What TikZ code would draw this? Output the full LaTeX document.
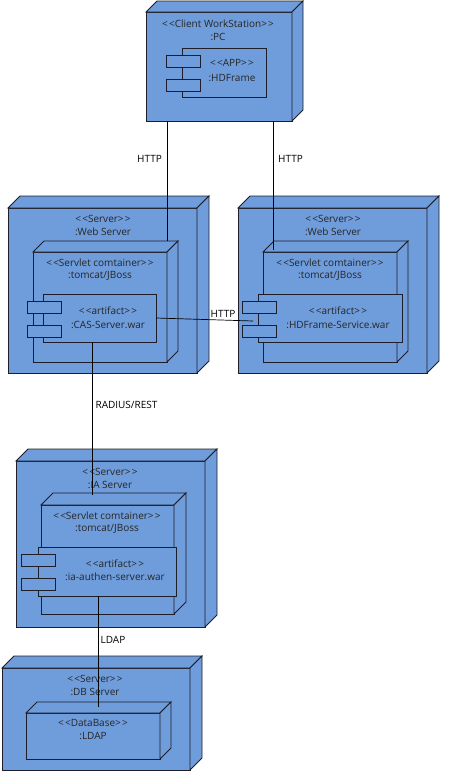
\documentclass[tikz,border=0pt]{standalone}
\usepackage{fontspec}
\setmainfont{Open Sans}
\definecolor{nodefill}{RGB}{111,156,218}
\definecolor{edge}{RGB}{30,30,40}
\newcommand\stl{<\kern1.2pt<}
\newcommand\str{>\kern1.2pt>}
\tikzset{
  dev/.style={draw=edge, fill=nodefill, line width=0.75pt, anchor=north west, inner sep=0pt, outer sep=0pt},
  face/.style={draw=edge, fill=nodefill, line width=0.75pt, line join=miter},
  txt/.style={font=\fontsize{10}{13}\selectfont, text=black!85, inner sep=0pt, anchor=center},
  conn/.style={draw=black, line width=0.7pt},
  lab/.style={font=\fontsize{10}{13}\selectfont, inner sep=1pt, anchor=center}
}
\newcommand\devbox[6]{% name, x1, y1, x2, y2, depth
  \node[dev, minimum width=#4pt-#2pt, minimum height=#5pt-#3pt] (#1) at (#2,#3) {};
  \draw[face] (#1.north west) -- ++(#6,-#6) -- ([shift={(#6,-#6)}]#1.north east) -- (#1.north east) -- cycle;
  \draw[face] (#1.north east) -- ([shift={(#6,-#6)}]#1.north east) -- ([shift={(#6,-#6)}]#1.south east) -- (#1.south east) -- cycle;
}
\newcommand\compbox[7]{% name, x1, y1, x2, y2, tabx1, tabx2
  \node[dev, minimum width=#4pt-#2pt, minimum height=#5pt-#3pt] (#1) at (#2,#3) {};
  \node[dev, minimum width=#7pt-#6pt, minimum height=12pt] (#1t1) at (#6,#3+7) {};
  \node[dev, minimum width=#7pt-#6pt, minimum height=12pt] (#1t2) at (#6,#3+31) {};
}
\begin{document}
\begin{tikzpicture}[x=1pt,y=-1pt]
\useasboundingbox (0,0) rectangle (456,771);
% PC
\devbox{pc}{146}{12}{292}{121}{11}
\node[txt] (pct) at (218,24) {\stl Client WorkStation\str};
\node[txt] (pct2) at (218,37) {:PC};
\compbox{app}{182}{48}{266}{97}{166}{200}
\node[txt] (appt) at (232,63) {\stl APP\str};
\node[txt] (appt2) at (232,78) {:HDFrame};
% Left web server
\devbox{ws1}{8}{208}{197}{373}{12}
\node[txt] (ws1t) at (103,219) {\stl Server\str};
\node[txt] (ws1t2) at (103,232) {:Web Server};
\devbox{tc1}{33}{252}{167}{362}{11}
\node[txt] (tc1t) at (100,263) {\stl Servlet comtainer\str};
\node[txt] (tc1t2) at (100,276) {:tomcat/JBoss};
\compbox{cas}{43}{294}{156}{342}{27}{61}
\node[txt] (cast) at (108,311) {\stl artifact\str};
\node[txt] (cast2) at (108,325) {:CAS-Server.war};
% Right web server
\devbox{ws2}{238}{208}{427}{373}{12}
\node[txt] (ws2t) at (333,219) {\stl Server\str};
\node[txt] (ws2t2) at (333,232) {:Web Server};
\devbox{tc2}{263}{252}{397}{362}{11}
\node[txt] (tc2t) at (330,263) {\stl Servlet comtainer\str};
\node[txt] (tc2t2) at (330,276) {:tomcat/JBoss};
\compbox{hds}{258}{294}{402}{342}{242}{276}
\node[txt] (hdst) at (338,311) {\stl artifact\str};
\node[txt] (hdst2) at (338,325) {:HDFrame-Service.war};
% IA server
\devbox{ia}{16}{461}{205}{627}{12}
\node[txt] (iat) at (110,472) {\stl Server\str};
\node[txt] (iat2) at (110,485) {:IA Server};
\devbox{tc3}{41}{505}{174}{614}{12}
\node[txt] (tc3t) at (107,516) {\stl Servlet comtainer\str};
\node[txt] (tc3t2) at (107,529) {:tomcat/JBoss};
\compbox{iaa}{38}{547}{176}{596}{21}{55}
\node[txt] (iaat) at (115,564) {\stl artifact\str};
\node[txt] (iaat2) at (115,577) {:ia-authen-server.war};
% DB server
\devbox{db}{2}{668}{190}{770}{12}
\node[txt] (dbt) at (95,679) {\stl Server\str};
\node[txt] (dbt2) at (95,692) {:DB Server};
\devbox{ldap}{26}{713}{160}{759}{11}
\node[txt] (ldapt) at (93,723) {\stl DataBase\str};
\node[txt] (ldapt2) at (93,736) {:LDAP};
% connectors
\draw[conn] (pc.south -| 167,0) -- ([yshift=11pt]tc1.north -| 167,0);
\draw[conn] (pc.south -| 273,0) -- ([yshift=2pt]tc2.north -| 273,0);
\draw[conn] (cas.east |- 0,318) -- (253,321) coordinate (hdsend);
\draw[conn] (cas.south -| 92,0) -- ([yshift=10pt]tc3.north -| 92,0);
\draw[conn] (iaa.south -| 98,0) -- ([yshift=6pt]ldap.north -| 98,0);
% labels
\node[lab] (l1) at (149.5,159) {HTTP};
\node[lab] (l2) at (290.5,159) {HTTP};
\node[lab] (l3) at (223,314) {HTTP};
\node[lab] (l4) at (126.5,405) {RADIUS/REST};
\node[lab] (l5) at (113,640) {LDAP};
\end{tikzpicture}
\end{document}
